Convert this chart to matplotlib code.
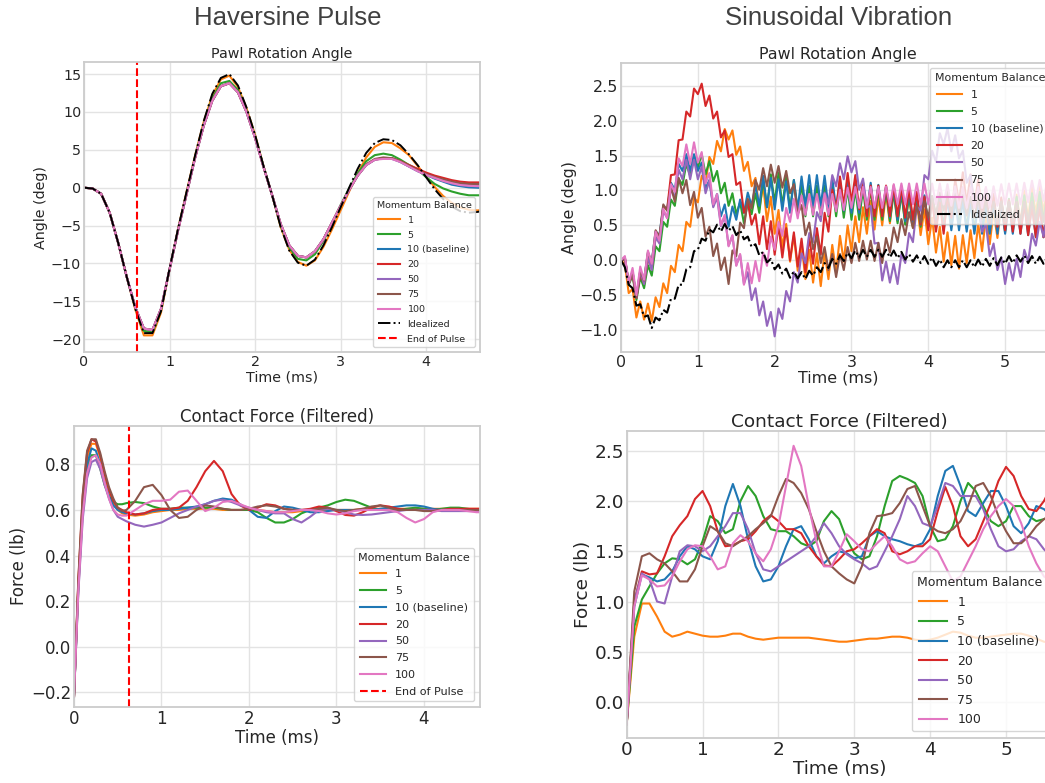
import numpy as np
import matplotlib
matplotlib.use("Agg")
import matplotlib.pyplot as plt

# ---------------------------------------------------------------- labels
SERIES = ["1", "5", "10 (baseline)", "20", "50", "75", "100"]
COLORS = ["#ff7f0e", "#2ca02c", "#1f77b4", "#d62728", "#9467bd", "#8c564b", "#e377c2"]
END_OF_PULSE = 0.625  # ms

# ---------------------------------------------------------------- haversine, angle (deg), t = 0 .. 4.7 step 0.1
hp_ang_t = np.linspace(0, 4.7, 48)
hp_ang_1 = [0, -0.1, -0.8, -3.3, -7.3, -11.8, -16.1, -19.5, -19.5, -16.5,
            -10.8, -5.4, -0.5, 4.3, 8.7, 12.2, 14.3, 14.8, 13.3, 10.5,
            7.0, 2.8, -1.0, -5.2, -8.2, -9.8, -10.3, -9.6, -7.8, -5.5,
            -3.0, -0.5, 1.9, 4.0, 5.4, 6.0, 5.9, 5.2, 4.3, 2.9,
            1.5, 0.1, -1.1, -2.0, -2.6, -2.9, -3.0, -2.9]
hp_ang_5 = [0, -0.1, -0.8, -3.3, -7.3, -11.8, -15.9, -18.9, -19.1, -16.2,
            -10.8, -5.5, -0.7, 4.1, 8.4, 11.8, 13.8, 14.1, 12.9, 10.2,
            6.8, 2.8, -1.0, -5.0, -7.9, -9.4, -9.6, -8.8, -7.0, -4.7,
            -2.3, -0.1, 1.9, 3.5, 4.3, 4.5, 4.3, 3.7, 3.0, 2.4,
            1.4, 0.5, -0.1, -0.5, -0.8, -1.0, -1.0, -1.0]
hp_ang_head = [0, -0.1, -0.8, -3.3, -7.3, -11.8, -15.8, -18.6, -18.8, -16.0,
               -10.8, -5.6, -0.8, 4.0, 8.2, 11.5, 13.4, 13.8, 12.6, 10.0,
               6.6, 2.7, -1.0, -4.8, -7.6, -9.0, -9.2, -8.4, -6.8, -4.6,
               -2.4, -0.3, 1.6]
hp_ang_tail_10 = [3.0, 3.7, 3.9, 3.9, 3.4, 2.8, 2.2, 1.7, 1.2, 0.8, 0.4, 0.2, 0.05, 0.0, -0.05]
hp_ang_tail_20 = [3.0, 3.7, 3.9, 3.9, 3.5, 3.0, 2.5, 2.0, 1.6, 1.3, 1.0, 0.8, 0.7, 0.7, 0.7]
hp_ang_tail_50 = [3.0, 3.7, 3.9, 3.8, 3.4, 2.8, 2.2, 1.7, 1.3, 0.9, 0.6, 0.4, 0.3, 0.3, 0.3]
hp_ang_tail_75 = [3.1, 3.8, 4.0, 3.9, 3.5, 2.9, 2.3, 1.8, 1.4, 1.1, 0.8, 0.6, 0.5, 0.5, 0.5]
hp_ang_tail_100 = [3.0, 3.7, 3.8, 3.8, 3.4, 2.8, 2.2, 1.7, 1.3, 0.9, 0.6, 0.35, 0.25, 0.2, 0.2]
hp_ang_ideal = [0, -0.1, -0.8, -3.3, -7.3, -11.8, -16.0, -19.2, -19.2, -16.3,
                -10.7, -5.4, -0.5, 4.3, 8.8, 12.4, 14.5, 15.0, 13.5, 10.6,
                7.0, 2.8, -1.0, -5.2, -8.3, -9.9, -10.3, -9.5, -7.6, -5.2,
                -2.6, 0.0, 2.5, 4.6, 5.9, 6.4, 6.3, 5.6, 4.4, 3.0,
                1.4, -0.2, -1.5, -2.5, -3.1, -3.3, -3.2, -3.0]

# ---------------------------------------------------------------- haversine, contact force (lb)
hp_frc_t = np.concatenate([np.linspace(0, 0.6, 13), np.linspace(0.7, 4.7, 41)])
hp_frc_1 = [-0.22, 0.28, 0.64, 0.83, 0.89, 0.89, 0.83, 0.75, 0.68, 0.63, 0.6, 0.585, 0.58,
            0.575, 0.58, 0.59, 0.595, 0.6, 0.6, 0.605, 0.605, 0.605, 0.605,
            0.6, 0.6, 0.6, 0.6, 0.6, 0.595, 0.59, 0.59, 0.59, 0.595,
            0.6, 0.6, 0.6, 0.6, 0.6, 0.6, 0.605, 0.605, 0.605, 0.605,
            0.605, 0.605, 0.605, 0.605, 0.605, 0.605, 0.605, 0.605, 0.605, 0.605, 0.605]
hp_frc_5 = [-0.22, 0.26, 0.6, 0.78, 0.84, 0.84, 0.78, 0.71, 0.66, 0.635, 0.625, 0.625, 0.63,
            0.635, 0.63, 0.615, 0.605, 0.605, 0.61, 0.61, 0.61, 0.61, 0.61,
            0.605, 0.6, 0.6, 0.6, 0.59, 0.565, 0.545, 0.545, 0.56, 0.585,
            0.6, 0.61, 0.62, 0.635, 0.645, 0.64, 0.625, 0.61, 0.6, 0.6,
            0.6, 0.605, 0.61, 0.605, 0.6, 0.605, 0.61, 0.61, 0.605, 0.6, 0.6]
hp_frc_10 = [-0.22, 0.27, 0.62, 0.8, 0.87, 0.86, 0.8, 0.72, 0.66, 0.62, 0.6, 0.59, 0.585,
             0.58, 0.585, 0.595, 0.6, 0.6, 0.605, 0.61, 0.615, 0.625, 0.64,
             0.65, 0.645, 0.625, 0.6, 0.57, 0.565, 0.595, 0.615, 0.61, 0.6,
             0.59, 0.59, 0.595, 0.6, 0.6, 0.6, 0.6, 0.6, 0.605, 0.61,
             0.615, 0.62, 0.62, 0.615, 0.605, 0.6, 0.6, 0.6, 0.6, 0.6, 0.6]
hp_frc_20 = [-0.22, 0.29, 0.66, 0.85, 0.91, 0.9, 0.84, 0.76, 0.69, 0.64, 0.61, 0.6, 0.59,
             0.58, 0.585, 0.6, 0.605, 0.605, 0.61, 0.64, 0.7, 0.77, 0.815,
             0.77, 0.67, 0.62, 0.6, 0.61, 0.625, 0.62, 0.605, 0.6, 0.6,
             0.605, 0.615, 0.61, 0.595, 0.578, 0.575, 0.59, 0.61, 0.62, 0.615,
             0.605, 0.6, 0.6, 0.6, 0.6, 0.6, 0.605, 0.605, 0.605, 0.605, 0.605]
hp_frc_50 = [-0.22, 0.24, 0.56, 0.74, 0.81, 0.82, 0.78, 0.71, 0.65, 0.6, 0.57, 0.56, 0.55,
             0.535, 0.527, 0.535, 0.545, 0.565, 0.585, 0.6, 0.615, 0.625, 0.64,
             0.645, 0.635, 0.62, 0.61, 0.6, 0.59, 0.585, 0.585, 0.56, 0.545,
             0.57, 0.6, 0.605, 0.6, 0.59, 0.58, 0.578, 0.58, 0.585, 0.59,
             0.595, 0.6, 0.6, 0.6, 0.6, 0.595, 0.595, 0.595, 0.595, 0.595, 0.595]
hp_frc_75 = [-0.22, 0.3, 0.67, 0.86, 0.91, 0.91, 0.85, 0.77, 0.7, 0.65, 0.61, 0.595, 0.6,
             0.64, 0.7, 0.71, 0.665, 0.6, 0.565, 0.57, 0.6, 0.62, 0.615,
             0.605, 0.6, 0.6, 0.605, 0.615, 0.62, 0.615, 0.605, 0.6, 0.6,
             0.6, 0.605, 0.61, 0.6, 0.595, 0.6, 0.605, 0.615, 0.62, 0.61,
             0.6, 0.6, 0.6, 0.595, 0.595, 0.6, 0.6, 0.6, 0.6, 0.6, 0.6]
hp_frc_100 = [-0.22, 0.25, 0.58, 0.76, 0.83, 0.84, 0.8, 0.72, 0.65, 0.6, 0.58, 0.575, 0.575,
              0.6, 0.625, 0.64, 0.64, 0.645, 0.68, 0.685, 0.64, 0.595, 0.61,
              0.635, 0.64, 0.625, 0.61, 0.6, 0.595, 0.59, 0.59, 0.595, 0.6,
              0.6, 0.595, 0.585, 0.58, 0.585, 0.595, 0.6, 0.6, 0.6, 0.6,
              0.59, 0.565, 0.545, 0.56, 0.59, 0.6, 0.6, 0.6, 0.595, 0.59, 0.59]

# ---------------------------------------------------------------- sinusoidal, angle (deg), t = 0 .. 5.65 step 0.05
sv_ang_t = np.linspace(0, 5.65, 114)
sv_ang_1 = [0, -0.06, -0.47, -0.41, -0.82, -0.59, -0.85, -0.62,
            -0.87, -0.53, -0.67, -0.33, -0.47, -0.08, -0.17, 0.22,
            0.13, 0.55, 0.48, 0.9, 0.83, 1.21, 1.11, 1.48,
            1.38, 1.71, 1.56, 1.88, 1.73, 1.86, 1.51, 1.63,
            1.28, 1.41, 1.06, 1.18, 0.73, 1.08, 0.56, 0.91,
            0.38, 0.72, 0.18, 0.52, -0.02, 0.36, -0.15, 0.23,
            -0.27, 0.15, -0.32, 0.1, -0.37, 0.12, -0.27, 0.22,
            -0.17, 0.35, -0.02, 0.5, 0.13, 0.63, 0.26, 0.76,
            0.38, 0.85, 0.44, 0.91, 0.5, 0.96, 0.53, 0.99,
            0.56, 0.98, 0.52, 0.94, 0.48, 0.86, 0.36, 0.73,
            0.23, 0.61, 0.11, 0.48, -0.02, 0.4, -0.07, 0.35,
            -0.12, 0.36, -0.04, 0.43, 0.03, 0.52, 0.13, 0.62,
            0.23, 0.71, 0.32, 0.8, 0.4, 0.87, 0.47, 0.94,
            0.53, 1.0, 0.6, 1.07, 0.66, 1.1, 0.67, 1.12,
            0.68, 1.12]
sv_ang_5 = [0, 0.01, -0.35, -0.22, -0.57, -0.24, -0.4, -0.07,
            -0.22, 0.2, 0.13, 0.55, 0.48, 0.87, 0.78, 1.17,
            1.08, 1.38, 1.21, 1.51, 1.33, 1.52, 1.23, 1.42,
            1.13, 1.28, 0.96, 1.11, 0.78, 0.96, 0.66, 0.83,
            0.53, 0.83, 0.66, 0.96, 0.68, 1.16, 0.76, 1.23,
            0.83, 1.25, 0.78, 1.2, 0.73, 1.15, 0.68, 1.1,
            0.63, 1.07, 0.63, 1.07, 0.63, 1.07, 0.63, 1.07,
            0.63, 1.06, 0.61, 1.03, 0.58, 1.02, 0.58, 1.02,
            0.58, 1.02, 0.58, 1.02, 0.58, 1.01, 0.56, 0.98,
            0.53, 0.96, 0.51, 0.93, 0.48, 0.92, 0.48, 0.92,
            0.48, 0.92, 0.48, 0.92, 0.48, 0.92, 0.48, 0.92,
            0.48, 0.91, 0.46, 0.88, 0.43, 0.87, 0.43, 0.87,
            0.43, 0.87, 0.43, 0.87, 0.43, 0.88, 0.45, 0.91,
            0.48, 0.93, 0.5, 0.96, 0.53, 0.98, 0.55, 1.01,
            0.58, 1.02]
sv_ang_10 = [0, 0.02, -0.32, -0.18, -0.52, -0.16, -0.27, 0.1,
             -0.02, 0.41, 0.36, 0.78, 0.73, 1.11, 1.01, 1.38,
             1.28, 1.52, 1.28, 1.52, 1.28, 1.4, 1.03, 1.15,
             0.78, 0.95, 0.63, 0.8, 0.48, 0.77, 0.58, 0.87,
             0.68, 0.97, 0.78, 1.07, 0.78, 1.21, 0.76, 1.18,
             0.73, 1.16, 0.71, 1.13, 0.68, 1.15, 0.73, 1.2,
             0.78, 1.22, 0.78, 1.22, 0.78, 1.21, 0.76, 1.18,
             0.73, 1.16, 0.71, 1.13, 0.68, 1.12, 0.68, 1.12,
             0.68, 1.11, 0.66, 1.08, 0.63, 1.06, 0.61, 1.03,
             0.58, 1.01, 0.56, 0.98, 0.53, 0.96, 0.51, 0.93,
             0.48, 0.91, 0.46, 0.88, 0.43, 0.87, 0.43, 0.87,
             0.43, 0.86, 0.41, 0.83, 0.38, 0.82, 0.38, 0.82,
             0.38, 0.82, 0.38, 0.82, 0.38, 0.82, 0.38, 0.82,
             0.38, 0.81, 0.36, 0.78, 0.33, 0.77, 0.33, 0.77,
             0.33, 0.77]
sv_ang_20 = [0, 0.02, -0.33, -0.2, -0.54, -0.2, -0.33, 0.02,
             -0.12, 0.33, 0.31, 0.76, 0.73, 1.22, 1.23, 1.72,
             1.73, 2.13, 2.06, 2.46, 2.38, 2.53, 2.21, 2.36,
             2.03, 2.13, 1.76, 1.86, 1.48, 1.52, 1.08, 1.12,
             0.68, 0.83, 0.51, 0.66, 0.23, 0.63, 0.16, 0.56,
             0.08, 0.5, 0.04, 0.46, 0.0, 0.4, -0.09, 0.31,
             -0.17, 0.33, -0.05, 0.46, 0.08, 0.68, 0.41, 1.01,
             0.73, 1.2, 0.78, 1.25, 0.83, 1.22, 0.73, 1.12,
             0.63, 1.07, 0.63, 1.07, 0.63, 1.07, 0.63, 1.07,
             0.63, 1.06, 0.61, 1.03, 0.58, 0.98, 0.51, 0.91,
             0.43, 0.86, 0.41, 0.83, 0.38, 0.93, 0.61, 1.16,
             0.83, 1.26, 0.81, 1.23, 0.78, 1.16, 0.66, 1.03,
             0.53, 0.95, 0.48, 0.9, 0.43, 0.86, 0.41, 0.83,
             0.38, 0.81, 0.36, 0.78, 0.33, 0.77, 0.33, 0.77,
             0.33, 0.77]
sv_ang_50 = [0, 0.04, -0.34, -0.16, -0.54, -0.16, -0.34, 0.04,
             -0.14, 0.33, 0.24, 0.7, 0.61, 1.03, 0.89, 1.3,
             1.16, 1.44, 1.16, 1.44, 1.16, 1.34, 0.96, 1.14,
             0.76, 0.9, 0.49, 0.63, 0.21, 0.35, -0.07, 0.08,
             -0.34, -0.17, -0.57, -0.4, -0.79, -0.59, -0.94, -0.74,
             -1.09, -0.69, -0.84, -0.44, -0.59, -0.17, -0.32, 0.1,
             -0.04, 0.39, 0.26, 0.69, 0.56, 0.97, 0.81, 1.22,
             1.06, 1.39, 1.16, 1.49, 1.26, 1.42, 1.01, 1.17,
             0.76, 0.78, 0.24, 0.25, -0.29, -0.02, -0.32, -0.05,
             -0.34, 0.09, -0.04, 0.39, 0.26, 0.77, 0.71, 1.22,
             1.16, 1.57, 1.41, 1.82, 1.66, 1.89, 1.56, 1.79,
             1.46, 1.57, 1.11, 1.22, 0.76, 0.87, 0.41, 0.52,
             0.06, 0.24, -0.14, 0.04, -0.34, -0.04, -0.29, 0.02,
             -0.24, 0.15, -0.02, 0.38, 0.21, 0.55, 0.34, 0.68,
             0.46, 0.74]
sv_ang_75 = [0, 0.04, -0.34, -0.16, -0.54, -0.14, -0.29, 0.12,
             -0.04, 0.43, 0.34, 0.8, 0.71, 1.05, 0.84, 1.18,
             0.96, 1.15, 0.79, 0.98, 0.61, 0.75, 0.34, 0.48,
             0.06, 0.24, -0.14, 0.04, -0.34, 0.14, 0.06, 0.54,
             0.46, 0.88, 0.74, 1.15, 1.01, 1.32, 1.06, 1.37,
             1.11, 1.35, 1.04, 1.28, 0.96, 1.09, 0.66, 0.79,
             0.36, 0.54, 0.16, 0.34, -0.04, 0.19, -0.14, 0.09,
             -0.24, 0.09, -0.14, 0.19, -0.04, 0.25, -0.01, 0.28,
             0.01, 0.28, -0.01, 0.25, -0.04, 0.32, 0.11, 0.47,
             0.26, 0.59, 0.36, 0.69, 0.46, 0.78, 0.54, 0.85,
             0.61, 0.92, 0.66, 0.97, 0.71, 0.99, 0.69, 0.96,
             0.66, 0.94, 0.64, 0.91, 0.61, 0.89, 0.59, 0.86,
             0.56, 0.84, 0.56, 0.84, 0.56, 0.84, 0.56, 0.84,
             0.56, 0.84, 0.56, 0.84, 0.56, 0.84, 0.56, 0.84,
             0.56, 0.84]
sv_ang_100 = [0, 0.06, -0.33, -0.11, -0.5, -0.09, -0.28, 0.14,
              -0.05, 0.41, 0.28, 0.74, 0.6, 1.09, 0.98, 1.46,
              1.35, 1.66, 1.38, 1.69, 1.4, 1.55, 1.1, 1.25,
              0.8, 0.95, 0.5, 0.65, 0.2, 0.36, -0.08, 0.09,
              -0.35, -0.04, -0.33, -0.01, -0.3, 0.11, -0.08, 0.34,
              0.15, 0.55, 0.35, 0.75, 0.55, 0.88, 0.6, 0.93,
              0.65, 0.95, 0.65, 0.95, 0.65, 0.95, 0.65, 0.95,
              0.7, 1.01, 0.72, 1.04, 0.75, 1.05, 0.75, 1.05,
              0.75, 1.05, 0.75, 1.05, 0.75, 1.06, 0.78, 1.09,
              0.8, 1.1, 0.8, 1.1, 0.8, 1.1, 0.8, 1.1,
              0.8, 1.1, 0.8, 1.1, 0.8, 1.09, 0.78, 1.06,
              0.75, 1.05, 0.75, 1.05, 0.75, 1.05, 0.75, 1.05,
              0.75, 1.06, 0.78, 1.09, 0.8, 1.1, 0.8, 1.1,
              0.8, 1.11, 0.83, 1.14, 0.85, 1.15, 0.85, 1.15,
              0.85, 1.15]
sv_ang_ideal = [0, -0.1, -0.35, -0.4, -0.65, -0.63, -0.81, -0.79,
                -0.97, -0.82, -0.86, -0.71, -0.75, -0.55, -0.55, -0.35,
                -0.35, -0.13, -0.1, 0.13, 0.15, 0.31, 0.28, 0.44,
                0.4, 0.51, 0.41, 0.52, 0.42, 0.49, 0.36, 0.43,
                0.3, 0.34, 0.19, 0.23, 0.07, 0.12, -0.03, 0.02,
                -0.13, -0.06, -0.19, -0.12, -0.25, -0.16, -0.26, -0.17,
                -0.27, -0.15, -0.22, -0.1, -0.17, -0.04, -0.11, 0.02,
                -0.05, 0.07, -0.01, 0.11, 0.03, 0.14, 0.04, 0.15,
                0.05, 0.15, 0.05, 0.15, 0.05, 0.15, 0.04, 0.14,
                0.03, 0.12, 0.01, 0.09, -0.02, 0.07, -0.04, 0.06,
                -0.05, 0.04, -0.08, 0.01, -0.1, 0.0, -0.1, 0.0,
                -0.1, 0.0, -0.1, 0.0, -0.1, 0.01, -0.09, 0.02,
                -0.08, 0.03, -0.07, 0.04, -0.05, 0.06, -0.04, 0.07,
                -0.02, 0.07, -0.04, 0.06, -0.05, 0.05, -0.05, 0.05,
                -0.05, 0.05]

# ---------------------------------------------------------------- sinusoidal, contact force (lb), t = 0 .. 5.6 step 0.1
sv_frc_t = np.linspace(0, 5.6, 57)
sv_frc_1 = [-0.22, 0.65, 0.98, 0.98, 0.85, 0.7, 0.65, 0.67, 0.7, 0.68,
            0.66, 0.65, 0.65, 0.66, 0.68, 0.68, 0.65, 0.63, 0.62, 0.63,
            0.64, 0.64, 0.64, 0.64, 0.64, 0.63, 0.62, 0.61, 0.6, 0.6,
            0.61, 0.62, 0.63, 0.63, 0.64, 0.65, 0.65, 0.64, 0.62, 0.61,
            0.62, 0.64, 0.67, 0.7, 0.69, 0.66, 0.64, 0.64, 0.65, 0.66,
            0.67, 0.68, 0.68, 0.66, 0.63, 0.6, 0.59]
sv_frc_5 = [-0.22, 0.75, 1.02, 1.15, 1.28, 1.38, 1.43, 1.42, 1.37, 1.42,
            1.6, 1.85, 1.8, 1.68, 1.72, 2.0, 2.15, 2.05, 1.85, 1.72,
            1.7, 1.7, 1.65, 1.58, 1.55, 1.6, 1.8, 1.9, 1.82, 1.62,
            1.48, 1.42, 1.45, 1.65, 1.95, 2.2, 2.25, 2.22, 2.18, 2.05,
            1.75, 1.6, 1.62, 1.75, 2.0, 2.18, 2.1, 1.95, 1.8, 1.75,
            1.8, 1.95, 1.95, 1.85, 1.8, 1.82, 1.85]
sv_frc_10 = [-0.22, 0.95, 1.27, 1.24, 1.2, 1.22, 1.3, 1.45, 1.55, 1.52,
             1.45, 1.42, 1.6, 1.95, 2.17, 1.95, 1.62, 1.35, 1.2, 1.22,
             1.35, 1.55, 1.72, 1.75, 1.62, 1.45, 1.38, 1.45, 1.5, 1.48,
             1.43, 1.45, 1.65, 1.7, 1.65, 1.62, 1.6, 1.57, 1.55, 1.58,
             1.72, 2.05, 2.3, 2.35, 2.15, 1.9, 1.85, 1.98, 2.1, 2.1,
             1.95, 1.75, 1.68, 1.78, 1.95, 1.92, 1.85]
sv_frc_20 = [-0.22, 1.0, 1.3, 1.27, 1.28, 1.45, 1.65, 1.76, 1.85, 2.02,
             2.1, 1.95, 1.7, 1.55, 1.56, 1.6, 1.62, 1.7, 1.8, 1.86,
             1.8, 1.72, 1.72, 1.68, 1.55, 1.45, 1.36, 1.35, 1.42, 1.5,
             1.52, 1.58, 1.65, 1.72, 1.68, 1.5, 1.47, 1.5, 1.55, 1.55,
             1.62, 1.9, 2.14, 1.95, 1.65, 1.55, 1.62, 1.8, 1.98, 2.2,
             2.34, 2.25, 2.05, 1.92, 1.9, 2.0, 2.15]
sv_frc_50 = [-0.22, 1.0, 1.28, 1.22, 1.0, 0.98, 1.25, 1.5, 1.56, 1.55,
             1.5, 1.55, 1.65, 1.75, 1.88, 1.88, 1.72, 1.48, 1.32, 1.3,
             1.35, 1.4, 1.45, 1.5, 1.55, 1.65, 1.78, 1.68, 1.55, 1.47,
             1.42, 1.38, 1.32, 1.35, 1.5, 1.65, 1.82, 2.05, 1.95, 1.78,
             1.75, 1.95, 2.18, 2.15, 2.05, 2.05, 2.05, 1.92, 1.72, 1.55,
             1.5, 1.52, 1.6, 1.65, 1.62, 1.52, 1.45]
sv_frc_75 = [-0.22, 1.1, 1.45, 1.48, 1.42, 1.38, 1.3, 1.2, 1.2, 1.32,
             1.55, 1.75, 1.7, 1.58, 1.55, 1.6, 1.65, 1.72, 1.78, 1.85,
             2.05, 2.22, 2.18, 2.08, 1.92, 1.7, 1.5, 1.35, 1.28, 1.22,
             1.18, 1.35, 1.68, 1.85, 1.86, 1.88, 1.98, 2.12, 2.15, 1.95,
             1.75, 1.7, 1.68, 1.72, 1.8, 1.95, 2.15, 2.18, 2.05, 1.85,
             1.7, 1.58, 1.58, 1.65, 1.75, 1.82, 1.86]
sv_frc_100 = [-0.22, 0.95, 1.26, 1.22, 1.15, 1.16, 1.25, 1.4, 1.52, 1.56,
              1.55, 1.45, 1.32, 1.35, 1.58, 1.66, 1.6, 1.48, 1.4, 1.52,
              1.75, 2.15, 2.55, 2.35, 1.95, 1.6, 1.35, 1.35, 1.5, 1.67,
              1.6, 1.52, 1.5, 1.58, 1.65, 1.55, 1.42, 1.38, 1.4, 1.48,
              1.55, 1.5, 1.35, 1.2, 1.25, 1.4, 1.55, 1.72, 1.85, 1.95,
              2.02, 1.95, 1.78, 1.55, 1.38, 1.25, 1.2]

TEXT = "#262626"
plt.rcParams.update({
    "font.family": ["DejaVu Sans"],
    "text.color": TEXT,
    "axes.labelcolor": TEXT,
    "xtick.color": TEXT,
    "ytick.color": TEXT,
})


def style(ax, title, ylabel, fs, xlim, ylim, yticks, fmt):
    ax.set_xlim(*xlim)
    ax.set_ylim(*ylim)
    ax.set_yticks(yticks)
    ax.set_yticklabels([fmt.format(v).replace("-", "\u2212") for v in yticks])
    ax.set_xticks(range(0, int(xlim[1]) + 1))
    ax.grid(True, color="#e3e3e3", lw=1.0)
    ax.set_axisbelow(True)
    for s in ax.spines.values():
        s.set_color("#cccccc")
        s.set_linewidth(1.3)
    ax.tick_params(length=0, pad=2, labelsize=fs)
    ax.set_title(title, fontsize=fs, pad=3)
    ax.set_xlabel("Time (ms)", fontsize=fs, labelpad=1)
    ax.set_ylabel(ylabel, fontsize=fs, labelpad=2)


fig = plt.figure(figsize=(10.45, 7.83), dpi=100)
ax_tl = fig.add_axes([0.0804, 0.5504, 0.3789, 0.3704])
ax_tr = fig.add_axes([0.5943, 0.5508, 0.4153, 0.3691])
ax_bl = fig.add_axes([0.0708, 0.0974, 0.3885, 0.3585])
ax_br = fig.add_axes([0.5997, 0.0578, 0.4080, 0.3921])

fig.text(0.275, 0.977, "Haversine Pulse", ha="center", va="center",
         fontsize=18.5, family="Liberation Sans", color="#404040")
fig.text(0.802, 0.977, "Sinusoidal Vibration", ha="center", va="center",
         fontsize=18.5, family="Liberation Sans", color="#404040")

# top left: haversine angle
hp_ang = [hp_ang_1, hp_ang_5,
          hp_ang_head + hp_ang_tail_10, hp_ang_head + hp_ang_tail_20,
          hp_ang_head + hp_ang_tail_50, hp_ang_head + hp_ang_tail_75,
          hp_ang_head + hp_ang_tail_100]
for lab, col, y in zip(SERIES, COLORS, hp_ang):
    ax_tl.plot(hp_ang_t, y, color=col, lw=1.5, label=lab)
ax_tl.plot(hp_ang_t, hp_ang_ideal, color="black", ls="-.", lw=1.4, label="Idealized")
ax_tl.axvline(END_OF_PULSE, color="red", ls="--", lw=1.5, label="End of Pulse")
style(ax_tl, "Pawl Rotation Angle", "Angle (deg)", 10.3, (0, 4.63), (-21.7, 16.6),
      [-20, -15, -10, -5, 0, 5, 10, 15], "{:d}")
ax_tl.legend(title="Momentum Balance", loc="lower right", fontsize=6.8,
             title_fontsize=6.8, labelspacing=0.62, handlelength=2.3)

# top right: sinusoidal angle
sv_ang = [sv_ang_1, sv_ang_5, sv_ang_10, sv_ang_20, sv_ang_50, sv_ang_75, sv_ang_100]
for lab, col, y in zip(SERIES, COLORS, sv_ang):
    ax_tr.plot(sv_ang_t, y, color=col, lw=1.5, label=lab)
ax_tr.plot(sv_ang_t, sv_ang_ideal, color="black", ls="-.", lw=1.5, label="Idealized")
style(ax_tr, "Pawl Rotation Angle", "Angle (deg)", 11.4, (0, 5.65), (-1.31, 2.83),
      [-1.0, -0.5, 0.0, 0.5, 1.0, 1.5, 2.0, 2.5], "{:.1f}")
ax_tr.legend(title="Momentum Balance", loc="upper right", fontsize=7.9,
             title_fontsize=7.9, labelspacing=0.65, handlelength=2.3)

# bottom left: haversine force
hp_frc = [hp_frc_1, hp_frc_5, hp_frc_10, hp_frc_20, hp_frc_50, hp_frc_75, hp_frc_100]
for lab, col, y in zip(SERIES, COLORS, hp_frc):
    ax_bl.plot(hp_frc_t, y, color=col, lw=1.5, label=lab)
ax_bl.axvline(END_OF_PULSE, color="red", ls="--", lw=1.5, label="End of Pulse")
style(ax_bl, "Contact Force (Filtered)", "Force (lb)", 12, (0, 4.64), (-0.263, 0.968),
      [-0.2, 0.0, 0.2, 0.4, 0.6, 0.8], "{:.1f}")
ax_bl.legend(title="Momentum Balance", loc="lower right", fontsize=8,
             title_fontsize=8, labelspacing=0.61, handlelength=2.3)

# bottom right: sinusoidal force
sv_frc = [sv_frc_1, sv_frc_5, sv_frc_10, sv_frc_20, sv_frc_50, sv_frc_75, sv_frc_100]
for lab, col, y in zip(SERIES, COLORS, sv_frc):
    ax_br.plot(sv_frc_t, y, color=col, lw=1.5, label=lab)
style(ax_br, "Contact Force (Filtered)", "Force (lb)", 13.3, (0, 5.62), (-0.356, 2.70),
      [0.0, 0.5, 1.0, 1.5, 2.0, 2.5], "{:.1f}")
ax_br.legend(title="Momentum Balance", loc="lower right", fontsize=9,
             title_fontsize=9, labelspacing=0.53, handlelength=2.3)

fig.savefig("out.png", dpi=100)
